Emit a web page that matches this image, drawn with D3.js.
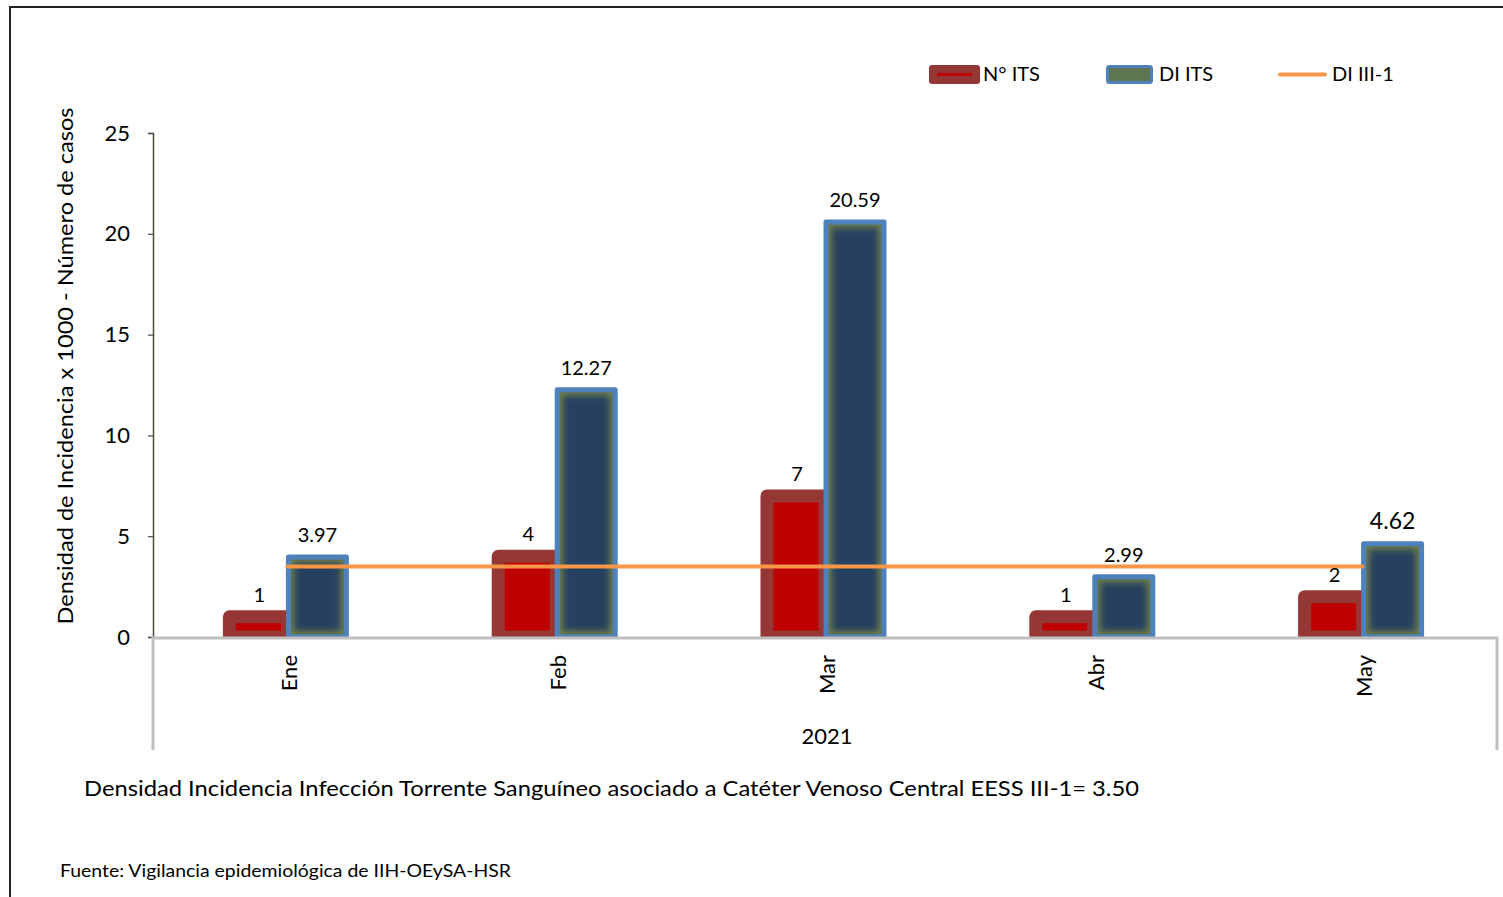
<!DOCTYPE html>
<html>
<head>
<meta charset="utf-8">
<script src="https://cdn.jsdelivr.net/npm/d3@7"></script>
<style>
  html, body { margin: 0; padding: 0; background: #fff; }
  svg { display: block; font-family: Lato, "Open Sans", sans-serif; }
</style>
</head>
<body>
<svg id="chart" width="1503" height="897"></svg>
<script>
// ---- data ----
const months = ["Ene", "Feb", "Mar", "Abr", "May"];
const numITS = [1, 4, 7, 1, 2];
const diITS = [3.97, 12.27, 20.59, 2.99, 4.62];
const diLabels = ["3.97", "12.27", "20.59", "2.99", "4.62"];
const diRef = [3.5, 3.5, 3.5, 3.5, 3.5];
const yTicks = [0, 5, 10, 15, 20, 25];
const seriesNames = ["N° ITS", "DI ITS", "DI III-1"];
const yearLabel = "2021";
const yTitle = "Densidad de Incidencia x 1000  - Número de casos";
const noteText = "Densidad Incidencia Infección Torrente Sanguíneo asociado a Catéter Venoso Central EESS III-1= 3.50";
const sourceText = "Fuente: Vigilancia epidemiológica de IIH-OEySA-HSR";

// ---- layout ----
const svg = d3.select("#chart");
const L = 153, R = 1497, T = 133, B = 637;
const x = d3.scaleBand().domain(months).range([L, R]).paddingInner(0).paddingOuter(0);
const y = d3.scaleLinear().domain([0, 25]).range([B, T]);
const barW = 58;

const defs = svg.append("defs");
defs.append("clipPath").attr("id", "plotClip")
  .append("rect").attr("x", L).attr("y", 0).attr("width", R - L).attr("height", B);
const glow = defs.append("filter").attr("id", "blurF")
  .attr("x", "-50%").attr("y", "-50%").attr("width", "200%").attr("height", "200%");
glow.append("feGaussianBlur").attr("stdDeviation", 3.2);

// frame
svg.append("path").attr("d", "M10,897 L10,7 L1503,7")
  .attr("fill", "none").attr("stroke", "#222").attr("stroke-width", 2);

// y axis
const yAxisG = svg.append("g").attr("transform", `translate(${L},0)`)
  .call(d3.axisLeft(y).tickValues(yTicks).tickSize(5).tickPadding(18).tickFormat(d3.format("d")));
yAxisG.select(".domain").attr("stroke", "#4a4a3c").attr("stroke-width", 1.5);
yAxisG.selectAll(".tick line").attr("stroke", "#4a4a3c").attr("stroke-width", 1.2);
yAxisG.selectAll(".tick text").attr("font-size", 22).attr("fill", "#000")
  .attr("font-family", "Lato, sans-serif");

svg.append("text")
  .attr("transform", `translate(73,366) rotate(-90)`)
  .attr("text-anchor", "middle").attr("font-size", 21).attr("fill", "#000")
  .attr("textLength", 517).attr("lengthAdjust", "spacingAndGlyphs")
  .text(yTitle);

// bars
const plot = svg.append("g").attr("clip-path", "url(#plotClip)");

// N° ITS bars
plot.selectAll("rect.its").data(numITS).join("rect")
  .attr("class", "its")
  .attr("x", (d, i) => x(months[i]) + x.bandwidth() / 2 - barW)
  .attr("y", d => y(d))
  .attr("width", barW)
  .attr("height", d => B - y(d))
  .attr("fill", "#C00000")
  .attr("stroke", "#953735")
  .attr("stroke-width", 13)
  .attr("stroke-linejoin", "round");

// DI ITS bars
diITS.forEach((d, i) => {
  const bx = x(months[i]) + x.bandwidth() / 2 + 1;
  const by = y(d);
  const bh = B - by;
  const id = "bc" + i;
  defs.append("clipPath").attr("id", id)
    .append("rect").attr("x", bx).attr("y", by).attr("width", barW).attr("height", bh);
  const g = plot.append("g");
  const inner = g.append("g").attr("clip-path", `url(#${id})`);
  inner.append("rect").attr("x", bx).attr("y", by).attr("width", barW).attr("height", bh)
    .attr("fill", "#6b7d4e");
  inner.append("rect").attr("x", bx + 6).attr("y", by + 6)
    .attr("width", Math.max(0, barW - 12)).attr("height", Math.max(0, bh - 12))
    .attr("fill", "#26405f").attr("filter", "url(#blurF)");
  g.append("rect").attr("x", bx).attr("y", by).attr("width", barW).attr("height", bh)
    .attr("fill", "none").attr("stroke", "#4F81BD").attr("stroke-width", 5)
    .attr("stroke-linejoin", "round");
});

// DI III-1 line
const line = d3.line()
  .x((d, i) => x(months[i]) + x.bandwidth() / 2)
  .y(d => y(d));
svg.append("path").datum(diRef).attr("d", line)
  .attr("fill", "none").attr("stroke", "#F79646").attr("stroke-width", 4)
  .attr("stroke-linecap", "round");

// data labels
svg.selectAll("text.lblIts").data(numITS).join("text")
  .attr("class", "lblIts")
  .attr("x", (d, i) => x(months[i]) + x.bandwidth() / 2 - barW / 2 + 1)
  .attr("y", d => y(d) - 15)
  .attr("text-anchor", "middle").attr("font-size", 20).attr("fill", "#000")
  .text(d => d);
svg.selectAll("text.lblDi").data(diITS).join("text")
  .attr("class", "lblDi")
  .attr("x", (d, i) => x(months[i]) + x.bandwidth() / 2 + 1 + barW / 2)
  .attr("y", d => y(d) - 15)
  .attr("text-anchor", "middle")
  .attr("font-size", (d, i) => i === 4 ? 23 : 20)
  .attr("fill", "#000")
  .text((d, i) => diLabels[i]);

// x axis box
svg.append("path")
  .attr("d", `M${L},750 L${L},${B + 1} L${R},${B + 1} L${R},750`)
  .attr("fill", "none").attr("stroke", "#BFBFBF").attr("stroke-width", 3);

const xAxisG = svg.append("g").attr("transform", `translate(0,${B})`)
  .call(d3.axisBottom(x).tickSize(0).tickPadding(0));
xAxisG.select(".domain").remove();
xAxisG.selectAll(".tick text")
  .attr("transform", "translate(2,18) rotate(-90)")
  .attr("text-anchor", "end")
  .attr("dy", "0.35em").attr("y", 0).attr("x", 0)
  .attr("font-size", 22).attr("fill", "#000")
  .attr("font-family", "Lato, sans-serif");

svg.append("text").attr("x", 827).attr("y", 744)
  .attr("text-anchor", "middle").attr("font-size", 22).attr("fill", "#000")
  .text(yearLabel);

// legend
const lg = svg.append("g");
lg.append("rect").attr("x", 929).attr("y", 65).attr("width", 51).attr("height", 19).attr("rx", 3)
  .attr("fill", "#953735");
lg.append("line").attr("x1", 937).attr("x2", 972).attr("y1", 74.5).attr("y2", 74.5)
  .attr("stroke", "#C00000").attr("stroke-width", 3);
lg.append("rect").attr("x", 1107.5).attr("y", 66.5).attr("width", 44).attr("height", 16).attr("rx", 2)
  .attr("fill", "#5d7550").attr("stroke", "#4F81BD").attr("stroke-width", 3);
lg.append("line").attr("x1", 1280).attr("x2", 1325).attr("y1", 74.5).attr("y2", 74.5)
  .attr("stroke", "#F79646").attr("stroke-width", 4).attr("stroke-linecap", "round");
const legX = [983, 1159, 1332];
lg.selectAll("text").data(seriesNames).join("text")
  .attr("x", (d, i) => legX[i]).attr("y", 81)
  .attr("font-size", 20).attr("fill", "#000")
  .text(d => d);

// notes
svg.append("text").attr("x", 84).attr("y", 796)
  .attr("font-size", 22).attr("fill", "#000")
  .attr("textLength", 1055).attr("lengthAdjust", "spacingAndGlyphs")
  .text(noteText);
svg.append("text").attr("x", 60).attr("y", 877)
  .attr("font-size", 17).attr("fill", "#000")
  .attr("textLength", 451).attr("lengthAdjust", "spacingAndGlyphs")
  .text(sourceText);
</script>
</body>
</html>
